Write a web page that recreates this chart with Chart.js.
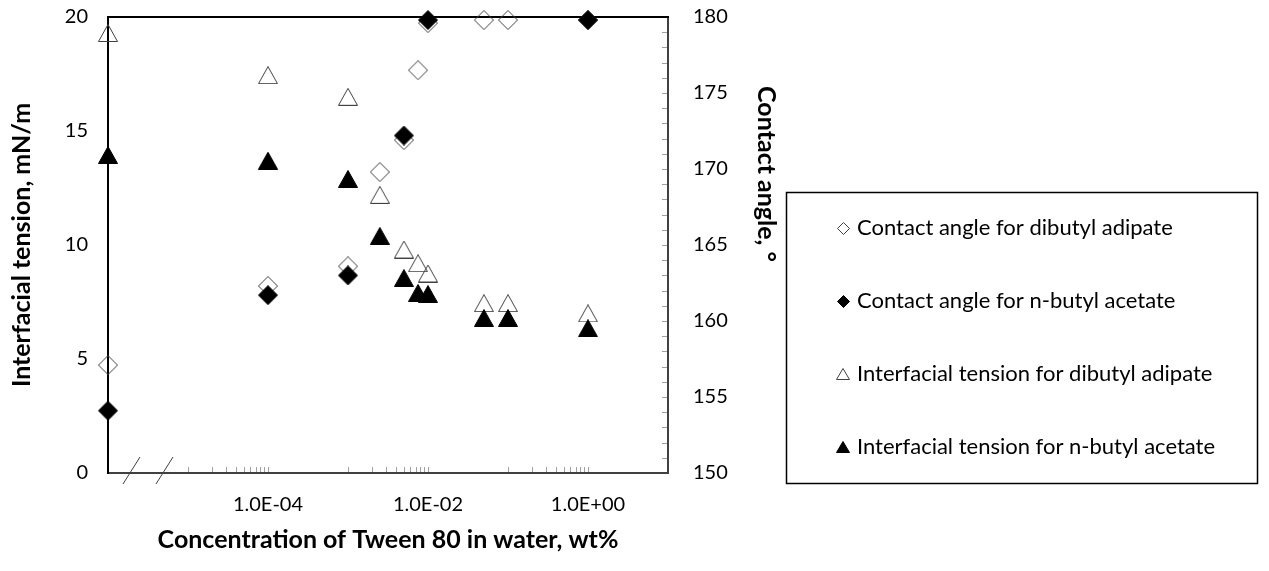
<!DOCTYPE html>
<html>
<head>
<meta charset="utf-8">
<title>Tween 80: contact angle and interfacial tension</title>
<script src="https://cdn.jsdelivr.net/npm/chart.js@4.4.0/dist/chart.umd.min.js"></script>
<style>
  html, body { margin: 0; padding: 0; background: #fff; }
  #wrap { width: 1269px; height: 571px; }
</style>
</head>
<body>
<div id="wrap"><canvas id="tweenChart" width="1269" height="571"></canvas></div>
<script>
// Tween 80 concentration, wt% (0 = no surfactant, sits at the start of the broken axis)
const concentration = [0, 1e-4, 1e-3, 2.5e-3, 5e-3, 7.5e-3, 1e-2, 0.05, 0.1, 1];
const concentrationAngleBA = [0, 1e-4, 1e-3, 5e-3, 1e-2, 1];

// contact angle, degrees (right axis)
const angleDibutylAdipate = [157.1, 162.3, 163.6, 169.8, 171.9, 176.5, 179.6, 179.8, 179.8, 179.8];
const angleButylAcetate = [154.1, 161.7, 163.0, 172.2, 179.8, 179.8];

// interfacial tension, mN/m (left axis)
const tensionDibutylAdipate = [19.3, 17.45, 16.5, 12.2, 9.8, 9.2, 8.75, 7.45, 7.45, 7.0];
const tensionButylAcetate = [13.95, 13.7, 12.9, 10.4, 8.55, 7.9, 7.85, 6.8, 6.8, 6.35];

const seriesLabels = [
    'Contact angle for dibutyl adipate',
    'Contact angle for n-butyl acetate',
    'Interfacial tension for dibutyl adipate',
    'Interfacial tension for n-butyl acetate'
];

const xMin = 1e-6;          // left end of the log axis, used for the "0" points
const xMax = 10;
const xLabelTicks = [1e-4, 1e-2, 1];
const minorDecades = [1e-5, 1e-3, 1e-1];

const FONT = 'Lato, "Open Sans", sans-serif';

function toPoints(xs, ys) {
    return xs.map((c, i) => ({ x: c === 0 ? xMin : c, y: ys[i] }));
}

// Excel style exponent label: 1.0E-04
function sciLabel(v) {
    const parts = v.toExponential(1).split('e');
    const sign = parts[1][0] === '-' ? '-' : '+';
    const exp = parts[1].replace(/[+-]/, '').padStart(2, '0');
    return parts[0] + 'E' + sign + exp;
}

// marker sprites (open/filled diamond and triangle)
function makeMarker(shape, filled, w, h) {
    const c = document.createElement('canvas');
    c.width = w;
    c.height = h;
    const g = c.getContext('2d');
    g.beginPath();
    if (shape === 'diamond') {
        g.moveTo(w / 2, 0.5);
        g.lineTo(w - 0.5, h / 2);
        g.lineTo(w / 2, h - 0.5);
        g.lineTo(0.5, h / 2);
    } else {
        g.moveTo(w / 2, 0.5);
        g.lineTo(w - 0.5, h - 0.5);
        g.lineTo(0.5, h - 0.5);
    }
    g.closePath();
    if (filled) {
        g.fillStyle = '#000';
        g.fill();
    }
    g.strokeStyle = filled ? '#000' : '#404040';
    g.lineWidth = 1;
    g.stroke();
    return c;
}

const markers = [
    makeMarker('diamond', false, 20, 20),
    makeMarker('diamond', true, 20, 20),
    makeMarker('triangle', false, 20, 18),
    makeMarker('triangle', true, 20, 18)
];
const legendMarkers = [
    makeMarker('diamond', false, 13, 13),
    makeMarker('diamond', true, 13, 13),
    makeMarker('triangle', false, 14, 12),
    makeMarker('triangle', true, 14, 12)
];

// keep the plot box fixed, no extra room for half labels
function fixWidth(w) {
    return (scale) => {
        scale.width = w;
        scale.paddingTop = 0;
        scale.paddingBottom = 0;
    };
}

// top frame line, inside tick marks, axis break and the boxed legend
const framePlugin = {
    id: 'frame',
    beforeDatasetsDraw(chart) {
        const ctx = chart.ctx;
        const area = chart.chartArea;
        const xs = chart.scales.x;
        const y2 = chart.scales.y2;
        ctx.save();

        ctx.strokeStyle = '#000';
        ctx.lineWidth = 2;
        ctx.beginPath();
        ctx.moveTo(area.left - 1, area.top);
        ctx.lineTo(area.right + 1, area.top);
        ctx.stroke();

        ctx.strokeStyle = '#a0a0a0';
        ctx.lineWidth = 1;
        ctx.beginPath();
        minorDecades.forEach(d => {
            for (let k = 1; k <= 10; k++) {
                const px = Math.round(xs.getPixelForValue(d * k)) + 0.5;
                ctx.moveTo(px, area.bottom - 1);
                ctx.lineTo(px, area.bottom - 6);
            }
        });
        for (let v = 151; v < 180; v++) {
            const py = Math.round(y2.getPixelForValue(v)) + 0.5;
            ctx.moveTo(area.right - 1, py);
            ctx.lineTo(area.right - 6, py);
        }
        ctx.stroke();

        // break marks on the concentration axis
        ctx.strokeStyle = '#404040';
        ctx.lineWidth = 1;
        ctx.beginPath();
        [123, 156].forEach(bx => {
            ctx.moveTo(bx, area.bottom + 11);
            ctx.lineTo(bx + 17, area.bottom - 16);
        });
        ctx.stroke();
        ctx.restore();
    },
    afterDraw(chart) {
        const ctx = chart.ctx;
        ctx.save();

        // right axis title, reads top to bottom
        ctx.fillStyle = '#000';
        ctx.font = 'bold 25px ' + FONT;
        ctx.textAlign = 'center';
        ctx.textBaseline = 'middle';
        ctx.translate(766, 174);
        ctx.rotate(Math.PI / 2);
        ctx.fillText('Contact angle, °', 0, 0);
        ctx.setTransform(1, 0, 0, 1, 0, 0);

        // legend box
        ctx.strokeStyle = '#000';
        ctx.lineWidth = 1.5;
        ctx.strokeRect(786.5, 192.5, 471, 291);
        ctx.font = '22px ' + FONT;
        ctx.textAlign = 'left';
        const rowY = [228, 301, 374, 447];
        seriesLabels.forEach((label, i) => {
            const m = legendMarkers[i];
            ctx.drawImage(m, Math.round(843 - m.width / 2), Math.round(rowY[i] - m.height / 2));
            ctx.fillText(label, 857, rowY[i]);
        });
        ctx.restore();
    }
};

const datasets = [
    { label: seriesLabels[0], data: toPoints(concentration, angleDibutylAdipate), yAxisID: 'y2', pointStyle: markers[0], order: 4 },
    { label: seriesLabels[1], data: toPoints(concentrationAngleBA, angleButylAcetate), yAxisID: 'y2', pointStyle: markers[1], order: 3 },
    { label: seriesLabels[2], data: toPoints(concentration, tensionDibutylAdipate), yAxisID: 'y', pointStyle: markers[2], order: 2 },
    { label: seriesLabels[3], data: toPoints(concentration, tensionButylAcetate), yAxisID: 'y', pointStyle: markers[3], order: 1 }
].map(ds => Object.assign(ds, { showLine: false, clip: false, pointRadius: 10, pointHoverRadius: 10 }));

const ctx = document.getElementById('tweenChart').getContext('2d');
new Chart(ctx, {
    type: 'scatter',
    data: { datasets: datasets },
    options: {
        responsive: false,
        animation: false,
        devicePixelRatio: 1,
        layout: { padding: { top: 17, left: 0, right: 0, bottom: 0 } },
        plugins: {
            legend: { display: false },
            tooltip: { enabled: false }
        },
        scales: {
            x: {
                type: 'logarithmic',
                position: 'bottom',
                min: xMin,
                max: xMax,
                afterBuildTicks: (scale) => {
                    scale.ticks = xLabelTicks.map(v => ({ value: v }));
                },
                afterFit: (scale) => { scale.height = 98; },
                grid: { display: true, drawOnChartArea: false, drawTicks: false },
                border: { color: '#404040', width: 2 },
                ticks: {
                    autoSkip: false,
                    maxRotation: 0,
                    padding: 20,
                    color: '#000',
                    font: { family: FONT, size: 20 },
                    callback: (v) => sciLabel(v)
                },
                title: {
                    display: true,
                    text: 'Concentration of Tween 80 in water, wt%',
                    color: '#000',
                    font: { family: FONT, size: 25, weight: 'bold' },
                    padding: { top: 0, bottom: 16 }
                }
            },
            y: {
                position: 'left',
                min: 0,
                max: 20,
                afterFit: fixWidth(108),
                grid: { display: true, drawOnChartArea: false, drawTicks: false },
                border: { color: '#000', width: 2 },
                ticks: {
                    stepSize: 5,
                    padding: 20,
                    color: '#000',
                    font: { family: FONT, size: 20 }
                },
                title: {
                    display: true,
                    text: 'Interfacial tension, mN/m',
                    color: '#000',
                    font: { family: FONT, size: 25, weight: 'bold' },
                    padding: { top: 7, bottom: 0 }
                }
            },
            y2: {
                position: 'right',
                min: 150,
                max: 180,
                afterFit: fixWidth(1269 - 668),
                grid: { display: true, drawOnChartArea: false, drawTicks: false },
                border: { color: '#404040', width: 2 },
                ticks: {
                    stepSize: 5,
                    padding: 25,
                    color: '#000',
                    font: { family: FONT, size: 20 }
                }
            }
        }
    },
    plugins: [framePlugin]
});
</script>
</body>
</html>
